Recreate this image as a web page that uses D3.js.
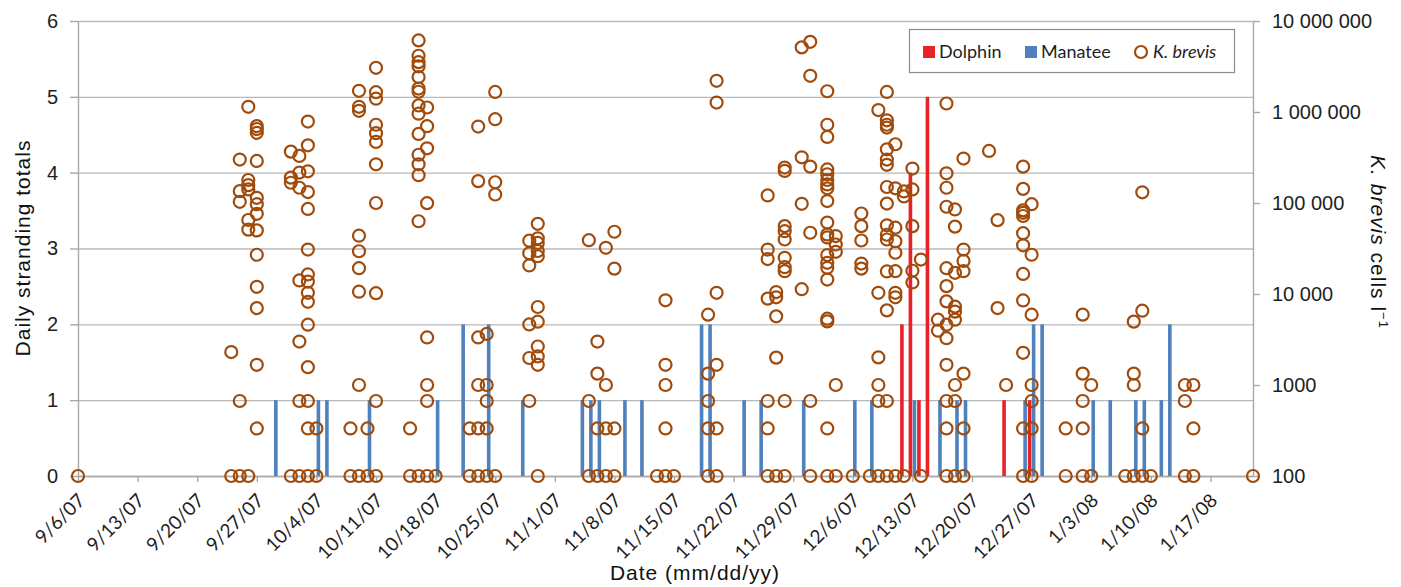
<!DOCTYPE html>
<html>
<head>
<meta charset="utf-8">
<script src="https://cdn.jsdelivr.net/npm/d3@7"></script>
<style>
    body { margin: 0; background: #fff; }
    svg { display: block; }
    .num { font-family: "Liberation Sans", Arial, sans-serif; font-size: 20px; fill: #1e1e1e; }
    .title { font-family: "Liberation Sans", Arial, sans-serif; font-size: 21px; fill: #111; letter-spacing: 1px; }
    .date { font-family: Lato, "Open Sans", sans-serif; font-size: 19px; fill: #1e1e1e; }
    .legend { font-family: Lato, "Open Sans", sans-serif; font-size: 18px; fill: #1e1e1e; }
</style>
</head>
<body>
<svg id="chart" width="1401" height="587"></svg>
<script>
// Axis ticks
const xDomain = ['9/6/07', '1/22/08'];
const xTickLabels = ['9/6/07', '9/13/07', '9/20/07', '9/27/07', '10/4/07', '10/11/07', '10/18/07',
    '10/25/07', '11/1/07', '11/8/07', '11/15/07', '11/22/07', '11/29/07', '12/6/07', '12/13/07',
    '12/20/07', '12/27/07', '1/3/08', '1/10/08', '1/17/08'];
const leftTicks = [0, 1, 2, 3, 4, 5, 6];
const rightTicks = [100, 1000, 10000, 100000, 1000000, 10000000];
const rightTickLabels = ['100', '1000', '10 000', '100 000', '1 000 000', '10 000 000'];

// Daily strandings
const dolphinDates = ['12/12/07', '12/13/07', '12/14/07', '12/15/07', '12/24/07', '12/27/07'];
const dolphinCounts = [2, 4, 1, 5, 1, 1];

const manateeDates = ['9/29/07', '10/4/07', '10/5/07', '10/10/07', '10/18/07', '10/21/07', '10/24/07',
    '10/28/07', '11/4/07', '11/5/07', '11/6/07', '11/9/07', '11/11/07', '11/18/07', '11/19/07',
    '11/23/07', '11/25/07', '11/30/07', '12/6/07', '12/8/07', '12/13/07', '12/16/07', '12/18/07',
    '12/19/07', '12/26/07', '12/27/07', '12/28/07', '1/3/08', '1/5/08', '1/8/08', '1/9/08',
    '1/11/08', '1/12/08'];
const manateeCounts = [1, 1, 1, 1, 1, 2, 2, 1, 1, 1, 1, 1, 1, 2, 2, 1, 1, 1, 1, 1, 1, 1, 1, 1,
    1, 2, 2, 1, 1, 1, 1, 1, 2];

// K. brevis samples (cells per litre), grouped by sampling date
const brevisSamples = [
    ['9/6/07', [100]],
    ['9/24/07', [2300, 100]],
    ['9/25/07', [300000, 135000, 103000, 667, 100]],
    ['9/26/07', [1140000, 179000, 157000, 141000, 65000, 51000, 100]],
    ['9/27/07', [700000, 650000, 590000, 290000, 114000, 97000, 76000, 50000, 27000, 12000, 7000, 1667, 333]],
    ['10/1/07', [367000, 190000, 167000, 100]],
    ['10/2/07', [329000, 216000, 147000, 14100, 3000, 667, 100]],
    ['10/3/07', [785000, 430000, 223000, 132000, 86000, 30800, 16400, 13700, 10300, 8200, 4600, 1570, 667, 333, 100]],
    ['10/4/07', [333, 100]],
    ['10/8/07', [333, 100]],
    ['10/9/07', [1710000, 1140000, 1030000, 43700, 29500, 19200, 10600, 1000, 100]],
    ['10/10/07', [333, 100]],
    ['10/11/07', [3060000, 1650000, 1400000, 724000, 585000, 469000, 266000, 100000, 10200, 667, 100]],
    ['10/15/07', [333, 100]],
    ['10/16/07', [6120000, 4150000, 3530000, 3180000, 2420000, 1810000, 1670000, 1180000, 958000, 574000, 339000, 266000, 202000, 63000, 100]],
    ['10/17/07', [1120000, 698000, 399000, 99600, 3333, 1000, 667, 100]],
    ['10/18/07', [100]],
    ['10/22/07', [333, 100]],
    ['10/23/07', [692000, 174000, 3333, 1000, 333, 100]],
    ['10/24/07', [3640, 1000, 667, 333, 100]],
    ['10/25/07', [1660000, 834000, 169000, 124000, 100]],
    ['10/29/07', [38500, 28000, 20600, 4630, 1980, 667]],
    ['10/30/07', [59000, 40900, 36400, 29700, 26000, 7200, 4960, 2650, 2060, 1667, 100]],
    ['11/5/07', [39000, 667, 100]],
    ['11/6/07', [3000, 1333, 333, 100]],
    ['11/7/07', [32200, 1000, 333, 100]],
    ['11/8/07', [48300, 19000, 333, 100]],
    ['11/13/07', [100]],
    ['11/14/07', [8530, 1667, 1000, 333, 100]],
    ['11/15/07', [100]],
    ['11/19/07', [5930, 1333, 667, 333, 100]],
    ['11/20/07', [2200000, 1270000, 10300, 1667, 333, 100]],
    ['11/26/07', [121000, 30800, 24200, 8900, 667, 333, 100]],
    ['11/27/07', [10500, 9200, 5680, 2000, 100]],
    ['11/28/07', [245000, 225000, 55700, 49000, 39700, 25000, 19700, 17800, 667, 100]],
    ['11/30/07', [5130000, 318000, 98000, 11300]],
    ['12/1/07', [5900000, 2500000, 251000, 47100, 667, 100]],
    ['12/3/07', [1690000, 724000, 532000, 234000, 207000, 179000, 160000, 145000, 105000, 61000, 45100, 41800, 26800, 22000, 19400, 14400, 5350, 5000, 333, 100]],
    ['12/4/07', [43300, 35000, 29100, 1000, 100]],
    ['12/6/07', [100]],
    ['12/7/07', [76700, 55700, 38700, 21600, 19000]],
    ['12/8/07', [100]],
    ['12/9/07', [1050000, 10300, 2010, 1000, 667, 100]],
    ['12/10/07', [1660000, 810000, 724000, 674000, 389000, 300000, 263000, 150000, 98500, 56900, 44800, 39700, 17700, 6610, 667, 100]],
    ['12/11/07', [442000, 145000, 53500, 38000, 28400, 17800, 10300, 9200, 100]],
    ['12/12/07', [134000, 118000, 100]],
    ['12/13/07', [239000, 141000, 55700, 18000, 13400]],
    ['12/14/07', [23900, 100]],
    ['12/16/07', [5220, 3950]],
    ['12/17/07', [1240000, 212000, 147000, 91000, 19200, 12200, 8300, 4600, 3270, 1667, 667, 333, 100]],
    ['12/18/07', [85000, 55000, 17100, 7260, 6400, 5220, 1000, 667, 100]],
    ['12/19/07', [308000, 30800, 23100, 17800, 1333, 333, 100]],
    ['12/22/07', [373000]],
    ['12/23/07', [64800, 7000]],
    ['12/24/07', [1000]],
    ['12/26/07', [251000, 143000, 83000, 78000, 72000, 46600, 34300, 16600, 8500, 2260, 333, 100]],
    ['12/27/07', [97000, 27000, 5930, 1000, 667, 333, 100]],
    ['12/31/07', [333, 100]],
    ['1/2/08', [5930, 1333, 667, 333, 100]],
    ['1/3/08', [1000, 100]],
    ['1/7/08', [100]],
    ['1/8/08', [4970, 1333, 1000, 100]],
    ['1/9/08', [131000, 6560, 333, 100]],
    ['1/10/08', [100]],
    ['1/14/08', [1000, 667, 100]],
    ['1/15/08', [1000, 333, 100]],
    ['1/22/08', [100]]
];

// Colours
const dolphinColor = '#ea2127';
const manateeColor = '#4f81bd';
const brevisColor = '#a04b0c';
const gridColor = '#b9b9b9';

const parseDate = d3.utcParse('%m/%d/%y');

// Plot frame
const plot = {left: 78, right: 1253, top: 21, bottom: 476};
const barWidth = 3.6;
const barShift = 2;

const svg = d3.select('#chart');

// Scales
const xScale = d3.scaleUtc()
    .domain(xDomain.map(parseDate))
    .range([plot.left, plot.right]);

const yLeft = d3.scaleLinear()
    .domain([0, 6])
    .range([plot.bottom, plot.top]);

const yRight = d3.scaleLog()
    .domain([100, 10000000])
    .range([plot.bottom, plot.top]);

// Gridlines
svg.append('g')
    .attr('transform', `translate(${plot.left},0)`)
    .call(d3.axisLeft(yLeft)
        .tickValues(leftTicks)
        .tickSize(-(plot.right - plot.left))
        .tickFormat(''))
    .call(g => g.select('.domain').remove())
    .call(g => g.selectAll('line').attr('stroke', gridColor).attr('stroke-width', 1.4));

// Left axis
const leftAxis = svg.append('g')
    .attr('transform', `translate(${plot.left},0)`)
    .call(d3.axisLeft(yLeft)
        .tickValues(leftTicks)
        .tickFormat(d3.format('d'))
        .tickSizeInner(8)
        .tickSizeOuter(0)
        .tickPadding(12));

// Right axis
const rightAxis = svg.append('g')
    .attr('transform', `translate(${plot.right},0)`)
    .call(d3.axisRight(yRight)
        .tickValues(rightTicks)
        .tickFormat((d, i) => rightTickLabels[i])
        .tickSizeInner(7)
        .tickSizeOuter(0)
        .tickPadding(12));

// Bottom axis
const xTicks = xTickLabels.map(parseDate);
const bottomAxis = svg.append('g')
    .attr('transform', `translate(0,${plot.bottom})`)
    .call(d3.axisBottom(xScale)
        .tickValues(xTicks)
        .tickFormat((d, i) => xTickLabels[i])
        .tickSizeInner(6)
        .tickSizeOuter(0));

[leftAxis, rightAxis, bottomAxis].forEach(ax => {
    ax.select('.domain').attr('stroke', '#a9a9a9').attr('stroke-width', 1.4);
    ax.selectAll('.tick line').attr('stroke', '#a9a9a9').attr('stroke-width', 1.4);
});
leftAxis.selectAll('text').attr('class', 'num');
rightAxis.selectAll('text').attr('class', 'num');

bottomAxis.selectAll('text')
    .attr('class', 'date')
    .attr('text-anchor', 'end')
    .attr('y', 0)
    .attr('dy', '0.35em')
    .attr('transform', 'translate(3,21) rotate(-45)');

// Bars
svg.append('g')
    .selectAll('rect')
    .data(manateeDates.map((d, i) => ({date: parseDate(d), count: manateeCounts[i]})))
    .join('rect')
    .attr('x', d => xScale(d.date) + barShift - barWidth / 2)
    .attr('y', d => yLeft(d.count))
    .attr('width', barWidth)
    .attr('height', d => yLeft(0) - yLeft(d.count))
    .attr('fill', manateeColor);

svg.append('g')
    .selectAll('rect')
    .data(dolphinDates.map((d, i) => ({date: parseDate(d), count: dolphinCounts[i]})))
    .join('rect')
    .attr('x', d => xScale(d.date) - barShift - barWidth / 2)
    .attr('y', d => yLeft(d.count))
    .attr('width', barWidth)
    .attr('height', d => yLeft(0) - yLeft(d.count))
    .attr('fill', dolphinColor);

// K. brevis points
const points = brevisSamples.flatMap(([day, cells]) =>
    cells.map(c => ({date: parseDate(day), cells: c})));

svg.append('g')
    .selectAll('circle')
    .data(points)
    .join('circle')
    .attr('cx', d => xScale(d.date))
    .attr('cy', d => yRight(d.cells))
    .attr('r', 6)
    .attr('fill', 'none')
    .attr('stroke', brevisColor)
    .attr('stroke-width', 2.2);

// Axis titles
svg.append('text')
    .attr('class', 'title')
    .attr('text-anchor', 'middle')
    .attr('transform', 'translate(30,248) rotate(-90)')
    .text('Daily stranding totals');

const rightTitle = svg.append('text')
    .attr('class', 'title')
    .attr('text-anchor', 'middle')
    .attr('transform', 'translate(1371,242) rotate(90)');
rightTitle.append('tspan').style('font-style', 'italic').text('K. brevis');
rightTitle.append('tspan').text(' cells l');
rightTitle.append('tspan').attr('dy', -8).style('font-size', '13px').text('\u22121');

svg.append('text')
    .attr('class', 'title')
    .attr('text-anchor', 'middle')
    .attr('x', 695)
    .attr('y', 580)
    .text('Date (mm/dd/yy)');

// Legend
const legend = svg.append('g');
legend.append('rect')
    .attr('x', 909.5).attr('y', 29.5)
    .attr('width', 325).attr('height', 43)
    .attr('fill', '#fff')
    .attr('stroke', '#8c8c8c')
    .attr('stroke-width', 1.2);

legend.append('rect').attr('x', 923).attr('y', 46).attr('width', 12).attr('height', 12).attr('fill', dolphinColor);
legend.append('text').attr('class', 'legend').attr('x', 939).attr('y', 58).text('Dolphin');

legend.append('rect').attr('x', 1025).attr('y', 46).attr('width', 12).attr('height', 12).attr('fill', manateeColor);
legend.append('text').attr('class', 'legend').attr('x', 1041).attr('y', 58).text('Manatee');

legend.append('circle').attr('cx', 1141).attr('cy', 52).attr('r', 6)
    .attr('fill', 'none').attr('stroke', brevisColor).attr('stroke-width', 2.2);
legend.append('text').attr('class', 'legend').attr('x', 1153).attr('y', 58)
    .style('font-style', 'italic').text('K. brevis');
</script>
</body>
</html>
